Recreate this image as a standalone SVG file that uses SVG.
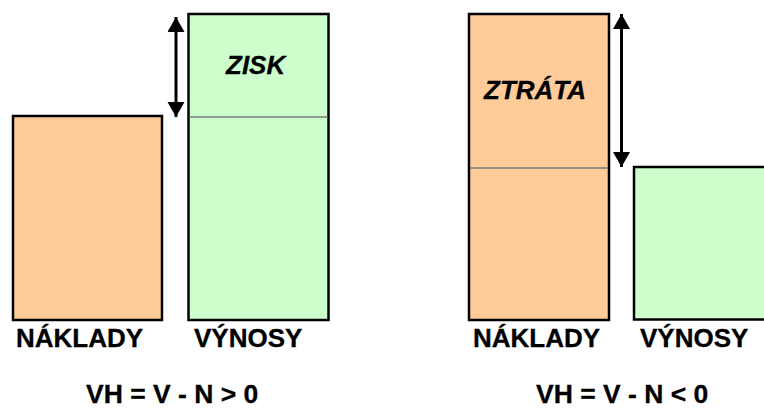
<svg xmlns="http://www.w3.org/2000/svg" width="764" height="414" viewBox="0 0 764 414">
<style>
.cost{fill:#FFCC99;stroke:#000;stroke-width:2.5}
.rev{fill:#CCFFCC;stroke:#000;stroke-width:2.5}
.div{stroke:#7a7a7a;stroke-width:1.5}
.lbl{font-family:"Liberation Sans",Arial,sans-serif;font-weight:bold;font-size:26px;fill:#000;stroke:#000;stroke-width:0.3}
.it{font-family:"Liberation Sans",Arial,sans-serif;font-weight:bold;font-style:italic;font-size:26px;fill:#000;stroke:#000;stroke-width:0.3}
.eq{font-family:"Liberation Sans",Arial,sans-serif;font-weight:bold;font-size:26.5px;fill:#000;stroke:#000;stroke-width:0.3}
.arr{stroke:#000;stroke-width:3;fill:none}
</style>
<defs>
<marker id="ah" markerUnits="userSpaceOnUse" markerWidth="16" markerHeight="18" refX="15" refY="8.5" orient="auto-start-reverse" viewBox="0 0 16 18">
<path d="M0,0 L15,8.5 L0,17 z" fill="#000"/>
</marker>
</defs>
<g id="left-naklady">
<rect class="cost" x="13" y="116" width="149" height="204"/>
<text class="lbl" x="16" y="347">NÁKLADY</text>
</g>
<g id="left-vynosy">
<rect class="rev" x="188.5" y="14" width="140" height="306"/>
<line class="div" x1="189.5" y1="117" x2="327.5" y2="117"/>
<text class="it" x="226" y="74">ZISK</text>
<text class="lbl" x="194" y="347">VÝNOSY</text>
</g>
<g id="right-naklady">
<rect class="cost" x="469" y="14" width="140" height="306"/>
<line class="div" x1="470" y1="168" x2="608" y2="168"/>
<text class="it" x="484" y="99">ZTRÁTA</text>
<text class="lbl" x="473" y="347">NÁKLADY</text>
</g>
<g id="right-vynosy">
<rect class="rev" x="634" y="167" width="140" height="152.5"/>
<text class="lbl" x="640" y="347">VÝNOSY</text>
</g>
<g id="connectors">
<line class="arr" x1="176" y1="17" x2="176" y2="117" marker-start="url(#ah)" marker-end="url(#ah)"/>
<line class="arr" x1="621.5" y1="14" x2="621.5" y2="167" marker-start="url(#ah)" marker-end="url(#ah)"/>
</g>
<g id="formulas">
<text class="eq" x="86" y="403">VH = V - N &gt; 0</text>
<text class="eq" x="536" y="403">VH = V - N &lt; 0</text>
</g>
</svg>
